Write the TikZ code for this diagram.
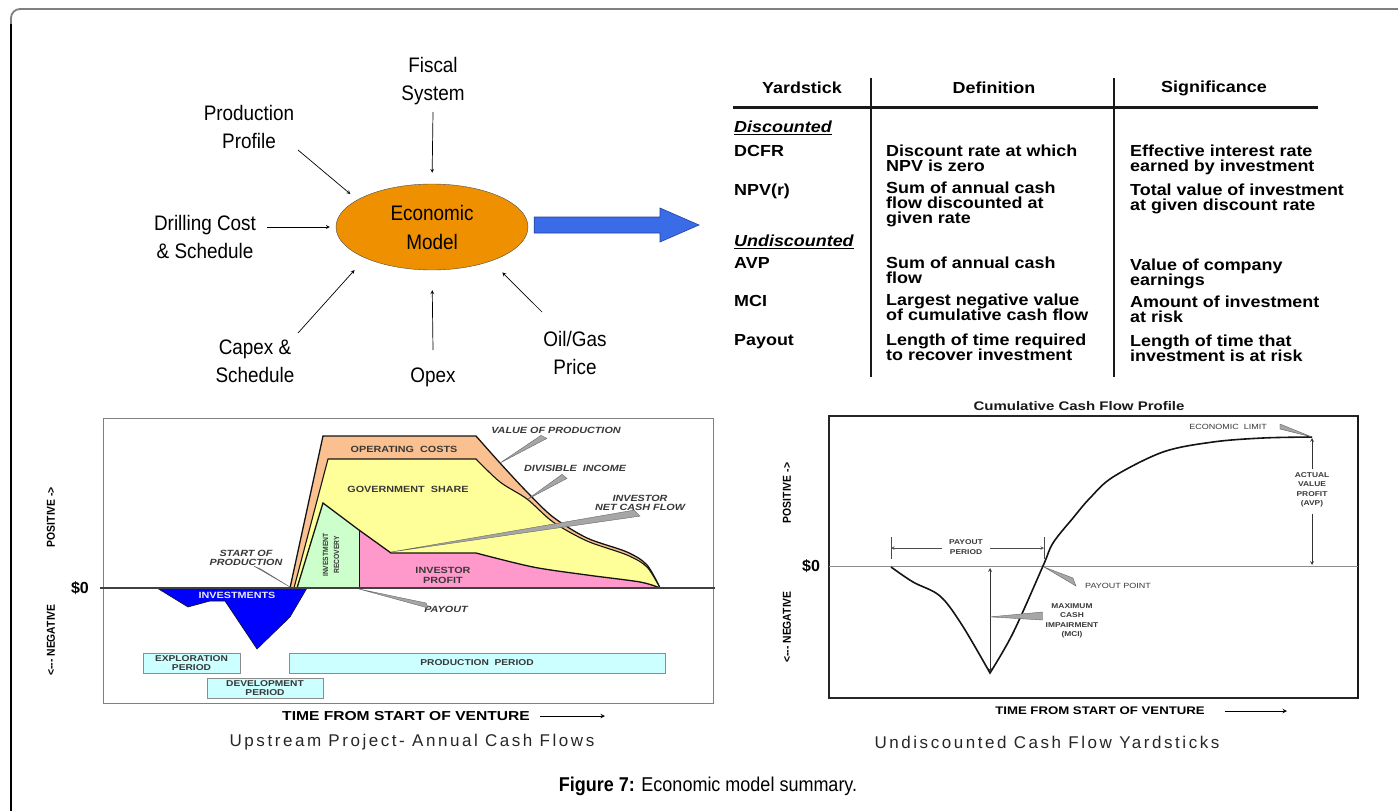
\documentclass[tikz,border=0pt]{standalone}
\usepackage{fontspec}
\setmainfont{Liberation Sans}
\newfontfamily\narrowfont[FakeStretch=0.9]{Liberation Sans}
\newfontfamily\tabfont[FakeStretch=1.12]{Liberation Sans}
\newfontfamily\chartfont[FakeStretch=1.2]{Liberation Sans}
\newfontfamily\capfont[LetterSpace=15]{Liberation Sans}
\usetikzlibrary{arrows}
\tikzset{>=stealth}
\usetikzlibrary{shapes,positioning,calc}
\definecolor{penColor}{RGB}{20,20,20}
\definecolor{modelFill}{RGB}{238,144,0}
\definecolor{arrowFill}{RGB}{58,108,232}
\definecolor{arrowEdge}{RGB}{35,65,160}
\definecolor{fillCost}{RGB}{250,192,144}
\definecolor{fillGov}{RGB}{255,255,153}
\definecolor{fillRecov}{RGB}{204,255,204}
\definecolor{fillProfit}{RGB}{255,153,204}
\definecolor{fillInvest}{RGB}{0,0,255}
\definecolor{fillPeriod}{RGB}{204,255,255}
\colorlet{labelColor}{black!78}
\colorlet{wedgeFill}{black!35}
\colorlet{wedgeEdge}{black!60}
\tikzset{
  inlabel/.style={font=\narrowfont\fontsize{21}{28}\selectfont,align=center,inner sep=0pt},
  inarrow/.style={->,line width=0.7pt},
  model/.style={ellipse,draw=black!70,fill=modelFill,minimum width=192pt,minimum height=86pt,
    inner sep=0pt,align=center,font=\narrowfont\fontsize{21}{29}\selectfont},
  tabhead/.style={font=\tabfont\bfseries\fontsize{16}{15}\selectfont,inner sep=0pt},
  tabcell/.style={anchor=north west,align=left,inner sep=0pt,font=\tabfont\bfseries\fontsize{16}{15}\selectfont},
  tabrule/.style={line width=2.5pt,black!90},
  chartlbl/.style={font=\chartfont\bfseries\fontsize{9}{10}\selectfont,text=labelColor,align=center,inner sep=0pt},
  chartital/.style={chartlbl,font=\chartfont\bfseries\itshape\fontsize{9}{9.5}\selectfont},
  periodbox/.style={chartlbl,draw=black!45,fill=fillPeriod,line width=0.6pt,
    font=\chartfont\bfseries\fontsize{8.5}{9}\selectfont},
  axislbl/.style={font=\narrowfont\bfseries\fontsize{11.5}{12}\selectfont,rotate=90,inner sep=0pt},
  zerolbl/.style={font=\bfseries\fontsize{16}{16}\selectfont,inner sep=0pt},
  timelbl/.style={font=\chartfont\bfseries\fontsize{13}{13}\selectfont,inner sep=0pt},
  callwedge/.style={fill=wedgeFill,draw=wedgeEdge,line width=0.4pt},
  smalllbl/.style={font=\chartfont\fontsize{7.5}{9}\selectfont,text=labelColor,align=center,inner sep=0pt},
  smallbold/.style={smalllbl,font=\chartfont\bfseries\fontsize{7}{9.5}\selectfont},
  capline/.style={font=\capfont\fontsize{17}{17}\selectfont,text=black!85,inner sep=0pt}
}
\begin{document}
\begin{tikzpicture}[x=1pt,y=-1pt]
    \useasboundingbox (0,0) rectangle (1398,811);
    \draw[black!50,line width=1.8pt,rounded corners=9pt] (11,60) -- (11,9) -- (1400,9);
    \draw[black,line width=1.8pt] (11,815) -- (11,24);

    \node[model] (model) at (432,227) {Economic\\Model};
    \node[inlabel] (fiscal) at (433,81) {Fiscal\\System};
    \node[inlabel] (prod) at (249,127) {Production\\Profile};
    \node[inlabel] (drill) at (205,237) {Drilling Cost\\\& Schedule};
    \node[inlabel] (capex) at (255,361) {Capex \&\\Schedule};
    \node[inlabel] (opex) at (433,377) {Opex};
    \node[inlabel] (price) at (575,353) {Oil/Gas\\Price};

    \coordinate (fiscalT) at (433,112);
    \coordinate (prodT) at (298,150);
    \coordinate (drillT) at (267,227);
    \coordinate (capexT) at (298,333);
    \coordinate (opexT) at (433,350);
    \coordinate (priceT) at (542,312);
    \draw[inarrow,shorten >=11pt] (fiscalT) -- (model.north);
    \draw[inarrow,shorten >=9pt] (prodT) -- (model.160);
    \draw[inarrow,shorten >=6pt] (drillT) -- (model.west);
    \draw[inarrow,shorten >=16pt] (capexT) -- (model.205);
    \draw[inarrow,shorten >=20pt] (opexT) -- (model.south);
    \draw[inarrow,shorten >=16pt] (priceT) -- (model.330);

    \coordinate (bigT) at ($(model.east)+(6,-2)$);
    \coordinate (bigH) at (699,225);
    \filldraw[fill=arrowFill,draw=arrowEdge,line width=0.6pt]
      ($(bigT)+(0,-8)$) -- ($(bigH)+(-39,-8)$) -- ($(bigH)+(-39,-17)$) -- (bigH)
      -- ($(bigH)+(-39,17)$) -- ($(bigH)+(-39,8)$) -- ($(bigT)+(0,8)$) -- cycle;

    \node[tabhead] (hYard) at (802,88) {Yardstick};
    \node[tabhead] (hDef) at (994,88) {Definition};
    \node[tabhead] (hSig) at (1214,88) {Significance};
    \draw[tabrule,line width=3pt] (733,107) -- (1318,107);
    \draw[tabrule] (871,78) -- (871,377);
    \draw[tabrule] (1114,78) -- (1114,377);

    \node[tabcell] (disc) at (734,121) {\underline{\itshape Discounted}};
    \node[tabcell] (dcfr) at (734,145) {DCFR};
    \node[tabcell] (dcfrDef) at (886,145) {Discount rate at which\\NPV is zero};
    \node[tabcell] (dcfrSig) at (1130,145) {Effective interest rate\\earned by investment};
    \node[tabcell] (npv) at (734,184) {NPV(r)};
    \node[tabcell] (npvDef) at (886,182) {Sum of annual cash\\flow discounted at\\given rate};
    \node[tabcell] (npvSig) at (1130,184) {Total value of investment\\at given discount rate};
    \node[tabcell] (undisc) at (734,235) {\underline{\itshape Undiscounted}};
    \node[tabcell] (avp) at (734,257) {AVP};
    \node[tabcell] (avpDef) at (886,257) {Sum of annual cash\\flow};
    \node[tabcell] (avpSig) at (1130,259) {Value of company\\earnings};
    \node[tabcell] (mci) at (734,295) {MCI};
    \node[tabcell] (mciDef) at (886,294) {Largest negative value\\of cumulative cash flow};
    \node[tabcell] (mciSig) at (1130,296) {Amount of investment\\at risk};
    \node[tabcell] (pay) at (734,334) {Payout};
    \node[tabcell] (payDef) at (886,334) {Length of time required\\to recover investment};
    \node[tabcell] (paySig) at (1130,335) {Length of time that\\investment is at risk};

    \draw[black!50,line width=0.8pt] (103,418) rectangle (713,703);
    \filldraw[fill=fillCost,draw=penColor,line width=1.3pt]
      (290,588) -- (323,436) -- (476,436) -- plot[smooth,tension=.5] coordinates
      {(476,436) (500,463) (527,492) (553,517) (587,538) (627,552) (647,565) (660,588)} -- cycle;
    \filldraw[fill=fillGov,draw=penColor,line width=1.1pt]
      (294,588) -- (328,459) -- (476,459) -- plot[smooth,tension=.5] coordinates
      {(476,459) (500,482) (527,499) (553,522) (587,541) (627,555) (647,567) (660,588)} -- cycle;
    \fill[fillRecov] (297,588) -- (323,503) -- (359,530) -- (359,588) -- cycle;
    \fill[fillProfit] (359,588) -- (359,530) -- (391,553) -- (476,553) -- plot[smooth,tension=.5]
      coordinates {(476,553) (533,567) (587,575) (640,582) (660,588)} -- cycle;
    \draw[penColor,line width=1.3pt] (297,588) -- (323,503) -- (359,530) -- (391,553) -- (476,553)
      -- plot[smooth,tension=.5] coordinates {(476,553) (533,567) (587,575) (640,582) (660,588)};
    \draw[penColor,line width=0.8pt] (359,530) -- (359,588);
    \filldraw[fill=fillInvest,draw=penColor,line width=0.6pt]
      (157,588) -- (188,607) -- (210,601) -- (225,601) -- (257,649) -- (290,617) -- (307,588) -- cycle;
    \draw[black!75,line width=1.3pt] (100,588) -- (715,588);

    \node[chartlbl] (opcLbl) at (404,449) {OPERATING\ \ COSTS};
    \node[chartlbl] (govLbl) at (408,489) {GOVERNMENT\ \ SHARE};
    \node[chartlbl,font=\narrowfont\bfseries\fontsize{7.5}{11}\selectfont,rotate=90] (recLbl) at (331,555) {INVESTMENT\\RECOVERY};
    \node[chartlbl] (profLbl) at (443,575) {INVESTOR\\PROFIT};
    \node[chartlbl,text=black!8] (invLbl) at (237,595) {INVESTMENTS};
    \node[chartital] (vopLbl) at (556,430) {VALUE OF PRODUCTION};
    \node[chartital] (diLbl) at (575,468) {DIVISIBLE\ \ INCOME};
    \node[chartital] (ncfLbl) at (640,503) {INVESTOR\\NET CASH FLOW};
    \node[chartital] (sopLbl) at (246,558) {START OF\\PRODUCTION};
    \node[chartital] (payLbl) at (446,609) {PAYOUT};

    \coordinate (vopPt) at (500,463);
    \coordinate (diPt) at (528,499);
    \coordinate (ncfPt) at (391,552);
    \coordinate (sopPt) at (290,587);
    \coordinate (payPt) at (359,589);
    \filldraw[callwedge] ($(vopLbl.south)+(-15,2)$) -- (vopPt) -- ($(vopLbl.south)+(-9,5)$) -- cycle;
    \filldraw[callwedge] ($(diLbl.south)+(-13,3)$) -- (diPt) -- ($(diLbl.south)+(-8,7)$) -- cycle;
    \filldraw[callwedge] ($(ncfLbl.south)+(-6,-1)$) -- (ncfPt) -- ($(ncfLbl.south)+(0,5)$) -- cycle;
    \filldraw[callwedge] ($(sopLbl.south)+(8,0)$) -- (sopPt) -- ($(sopLbl.south)+(15,3)$) -- cycle;
    \filldraw[callwedge] ($(payLbl.west)+(2,-6)$) -- (payPt) -- ($(payLbl.west)+(4,-1)$) -- cycle;

    \node[periodbox,minimum width=97pt,minimum height=20pt] (explBox) at (191.5,663) {EXPLORATION\\PERIOD};
    \node[periodbox,minimum width=116pt,minimum height=20pt] (devBox) at (265,688) {DEVELOPMENT\\PERIOD};
    \node[periodbox,minimum width=376pt,minimum height=20pt] (prodBox) at (477,663) {PRODUCTION\ \ PERIOD};

    \node[zerolbl] (zeroL) at (80,588) {\$0};
    \node[axislbl] (posL) at (51,517) {POSITIVE -{}>};
    \node[axislbl] (negL) at (51,640) {<{-}{-}{-} NEGATIVE};
    \node[timelbl] (timeL) at (406,716) {TIME FROM START OF VENTURE};
    \coordinate (timeLEnd) at (605,716);
    \draw[->,line width=1pt] ([xshift=10pt]timeL.east) -- (timeLEnd);

    \node[chartlbl,font=\chartfont\bfseries\fontsize{12.5}{13}\selectfont,text=black!90] (cumTitle) at (1079,406) {Cumulative Cash Flow Profile};
    \draw[black!85,line width=1.1pt] (829,416) rectangle (1358,698);
    \draw[black!90,line width=2.2pt] (1358,416) -- (1358,698);
    \draw[black!45,line width=0.7pt] (829,566) -- (1358,566);
    \draw[penColor,line width=1.6pt] plot[smooth,tension=.55] coordinates
      {(891,567) (913,582) (940,596) (962,625) (990,673)} -- plot[smooth,tension=.55] coordinates
      {(990,673) (1013,633) (1043,566) (1053,543) (1073,518) (1090,498) (1113,477) (1163,452) (1213,442) (1263,438) (1312,437)};

    \node[smallbold] (ppLbl) at (966,547) {PAYOUT\\PERIOD};
    \coordinate (ppL) at (891,548);
    \coordinate (ppR) at (1044,548);
    \draw[black!70,line width=0.6pt] ($(ppL)+(0,-11)$) -- ($(ppL)+(0,11)$) ($(ppR)+(0,-11)$) -- ($(ppR)+(0,11)$);
    \draw[->,black!70,line width=0.6pt] ([xshift=-7pt]ppLbl.west |- ppL) -- (ppL);
    \draw[->,black!70,line width=0.6pt] ([xshift=7pt]ppLbl.east |- ppR) -- (ppR);

    \coordinate (mciTop) at (990,568);
    \coordinate (mciBot) at (990,672);
    \draw[<->,black!80,line width=0.7pt] (mciTop) -- (mciBot);
    \node[smallbold] (mciLbl) at (1072,621) {MAXIMUM\\CASH\\IMPAIRMENT\\(MCI)};
    \filldraw[callwedge] ($(mciLbl.west)+(-3,-9)$) -- ($(mciTop)!0.47!(mciBot)$) -- ($(mciLbl.west)+(-3,-1)$) -- cycle;

    \node[smalllbl] (ppoLbl) at (1118,586) {PAYOUT POINT};
    \coordinate (ppoPt) at (1044,567);
    \filldraw[callwedge] ($(ppoLbl.west)+(-12,-8)$) -- (ppoPt) -- ($(ppoLbl.west)+(-9,0)$) -- cycle;

    \node[smalllbl] (elLbl) at (1228,427) {ECONOMIC\ \ LIMIT};
    \coordinate (elPt) at (1312,437);
    \filldraw[callwedge] ($(elLbl.east)+(13,-3)$) -- (elPt) -- ($(elLbl.east)+(13,2)$) -- cycle;

    \node[smallbold] (avpLbl) at (1312,490) {ACTUAL\\VALUE\\PROFIT\\(AVP)};
    \coordinate (avpTop) at (1312,438);
    \coordinate (avpBot) at (1312,565);
    \draw[->,black!80,line width=0.7pt] ([yshift=3pt]avpLbl.north) -- (avpTop);
    \draw[->,black!80,line width=0.7pt] ([yshift=-6pt]avpLbl.south) -- (avpBot);

    \node[zerolbl] (zeroR) at (811,566) {\$0};
    \node[axislbl] (posR) at (787,493) {POSITIVE -{}>};
    \node[axislbl] (negR) at (787,627) {<{-}{-}{-} NEGATIVE};
    \node[timelbl,font=\chartfont\bfseries\fontsize{11}{11}\selectfont] (timeR) at (1100,711) {TIME FROM START OF VENTURE};
    \coordinate (timeREnd) at (1287,711);
    \draw[->,line width=1pt] ([xshift=20pt]timeR.east) -- (timeREnd);

    \node[capline] (capL) at (412,742) {Upstream Project- Annual Cash Flows};
    \node[capline] (capR) at (1047,742) {Undiscounted Cash Flow Yardsticks};
    \node[font=\narrowfont\fontsize{20}{20}\selectfont,inner sep=0pt] (figCap) at (708,786) {\textbf{Figure 7:} Economic model summary.};
\end{tikzpicture}
\end{document}
